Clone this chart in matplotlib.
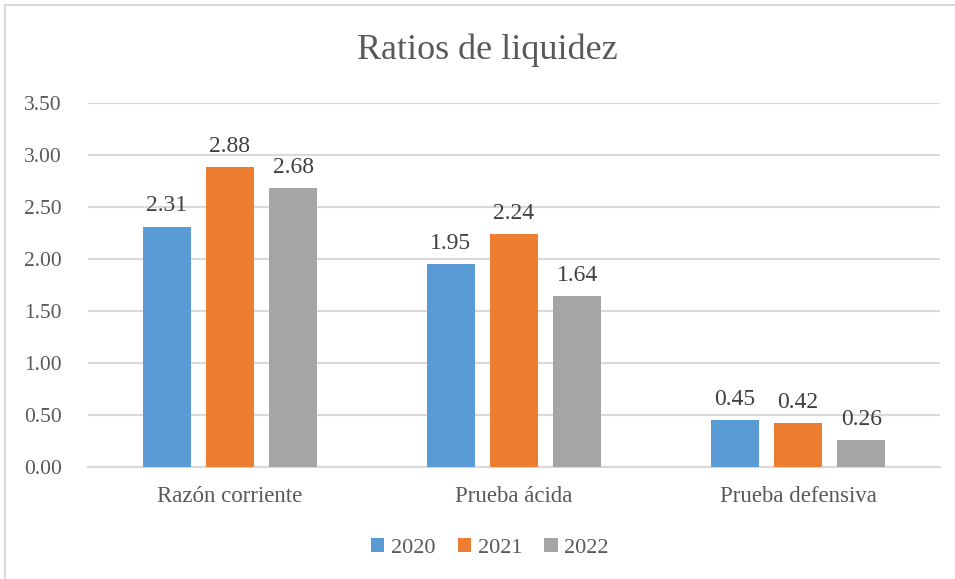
import matplotlib
matplotlib.use("Agg")
import matplotlib.pyplot as plt
import numpy as np
from matplotlib.lines import Line2D

categories = ["Razón corriente", "Prueba ácida", "Prueba defensiva"]
years = ["2020", "2021", "2022"]
v2020 = [2.31, 1.95, 0.45]
v2021 = [2.88, 2.24, 0.42]
v2022 = [2.68, 1.64, 0.26]
colors = ["#5B9BD5", "#ED7D31", "#A5A5A5"]

plt.rcParams['font.family'] = ['Liberation Serif', 'DejaVu Serif']
txt = "#595959"

fig = plt.figure(figsize=(9.55, 5.79), dpi=100)
ax = fig.add_axes([88/955, (579-467)/579, (940-88)/955, (467-103)/579])

x = np.arange(len(categories))
width = 0.17
offset = 0.223
for i, (vals, yr, c) in enumerate(zip([v2020, v2021, v2022], years, colors)):
    pos = x + (i - 1) * offset
    bars = ax.bar(pos, vals, width, color=c, label=yr, zorder=3)
    for b, v in zip(bars, vals):
        ax.text(b.get_x() + b.get_width()/2, v + 0.1, f"{v:.2f}", ha="center", va="bottom",
                fontsize=17, color="#404040")

ax.set_xlim(-0.5, 2.5)
ax.set_ylim(0, 3.5)
ax.set_yticks(np.arange(0, 3.51, 0.5))
ax.set_yticklabels([f"{t:.2f}" for t in np.arange(0, 3.51, 0.5)])
ax.set_xticks(x)
ax.set_xticklabels(categories)
ax.tick_params(axis="both", length=0, labelcolor=txt)
ax.tick_params(axis="y", pad=46, labelsize=15.5)
ax.tick_params(axis="x", pad=14, labelsize=16.5)
for lbl in ax.get_yticklabels():
    lbl.set_horizontalalignment("left")
ax.grid(axis="y", color="#D9D9D9", linewidth=1.5, zorder=0)
for s in ["top", "right", "left"]:
    ax.spines[s].set_visible(False)
ax.spines["bottom"].set_color("#D9D9D9")
ax.spines["bottom"].set_linewidth(1.5)

fig.text(487/955, 1 - 50/579, "Ratios de liquidez", ha="center", va="center", fontsize=26, color=txt)

leg = fig.legend(loc="center", bbox_to_anchor=(490/955, 1 - 548/579), ncol=3, frameon=False,
                 fontsize=16, handlelength=0.6, handleheight=0.6, handletextpad=0.3, columnspacing=1.0)
for t in leg.get_texts():
    t.set_color(txt)

fig.add_artist(Line2D([5/955, 5/955], [0, 1 - 5/579], transform=fig.transFigure, color="#D9D9D9", linewidth=1.5))
fig.add_artist(Line2D([5/955, 1], [1 - 5/579, 1 - 5/579], transform=fig.transFigure, color="#D9D9D9", linewidth=1.5))

fig.savefig("out.png", dpi=100)
